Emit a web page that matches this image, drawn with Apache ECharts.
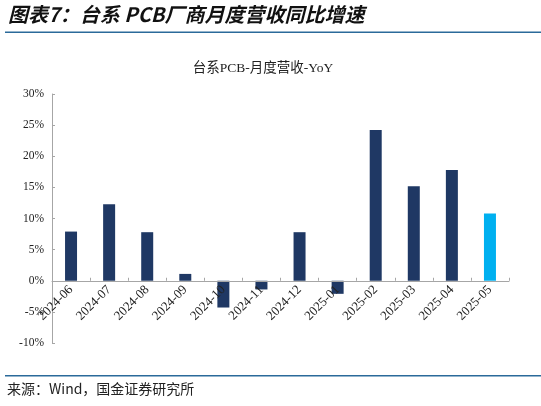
<!DOCTYPE html>
<html>
<head>
<meta charset="utf-8">
<script src="https://cdn.jsdelivr.net/npm/echarts@6/dist/echarts.min.js"></script>
<style>
html,body{margin:0;padding:0;background:#fff;}
#c{width:541px;height:406px;}
</style>
</head>
<body>
<div id="c"></div>
<script>
const categories = ['2024-06','2024-07','2024-08','2024-09','2024-10','2024-11','2024-12','2025-01','2025-02','2025-03','2025-04','2025-05'];
const yoyValues = [7.9, 12.3, 7.8, 1.1, -4.3, -1.4, 7.8, -2.1, 24.2, 15.2, 17.8, 10.8];
const highlightIndex = 11;
const yTicks = {min: -10, max: 30, interval: 5};

const serif = '"Liberation Serif","Noto Sans CJK SC",serif';
const gridTop = 94, gridBottom = 63, H = 406;
const gridH = H - gridTop - gridBottom;
const zeroOffset = -gridH * (0 - yTicks.min) / (yTicks.max - yTicks.min);

const chart = echarts.init(document.getElementById('c'), null, {renderer: 'canvas'});
chart.setOption({
  animation: false,
  backgroundColor: '#fff',
  title: {
    text: '台系PCB-月度营收-YoY',
    left: 258, top: 57, textAlign: 'center',
    textStyle: {fontFamily: serif, fontSize: 13.5, fontWeight: 'normal', color: '#222'}
  },
  grid: {left: 52, right: 32, top: gridTop, bottom: gridBottom, containLabel: false},
  xAxis: {
    type: 'category',
    data: categories,
    offset: zeroOffset,
    z: 5,
    axisLine: {onZero: false, lineStyle: {color: '#a6a6a6', width: 1}},
    axisTick: {show: true, inside: true, length: 3, lineStyle: {color: '#a6a6a6'}},
    axisLabel: {rotate: 45, interval: 0, margin: 7, fontFamily: serif, fontSize: 13, color: '#222'}
  },
  yAxis: {
    type: 'value',
    min: yTicks.min, max: yTicks.max, interval: yTicks.interval,
    axisLine: {show: true, lineStyle: {color: '#a6a6a6', width: 1}},
    axisTick: {show: true, inside: true, length: 3, lineStyle: {color: '#a6a6a6'}},
    splitLine: {show: false},
    axisLabel: {formatter: '{value}%', fontFamily: serif, fontSize: 11.5, color: '#222', margin: 8}
  },
  series: [{
    type: 'bar',
    barWidth: 12,
    z: 2,
    data: yoyValues.map((v, i) => ({
      value: v,
      itemStyle: {color: i === highlightIndex ? '#00b0f0' : '#1f3864'}
    }))
  }],
  graphic: [
    {type: 'text', left: 8, top: 4,
     style: {text: '图表7：台系 PCB厂商月度营收同比增速', font: 'italic bold 20px "Noto Sans CJK SC"', fill: '#111'}},
    {type: 'rect', shape: {x: 5, y: 31.5, width: 536, height: 1.5}, style: {fill: '#2b6a9a'}},
    {type: 'rect', shape: {x: 5, y: 375, width: 536, height: 1.5}, style: {fill: '#2b6a9a'}},
    {type: 'text', left: 7, top: 382,
     style: {text: '来源：Wind，国金证券研究所', font: '14px "Noto Sans CJK SC"', fill: '#222'}}
  ]
});
</script>
</body>
</html>
